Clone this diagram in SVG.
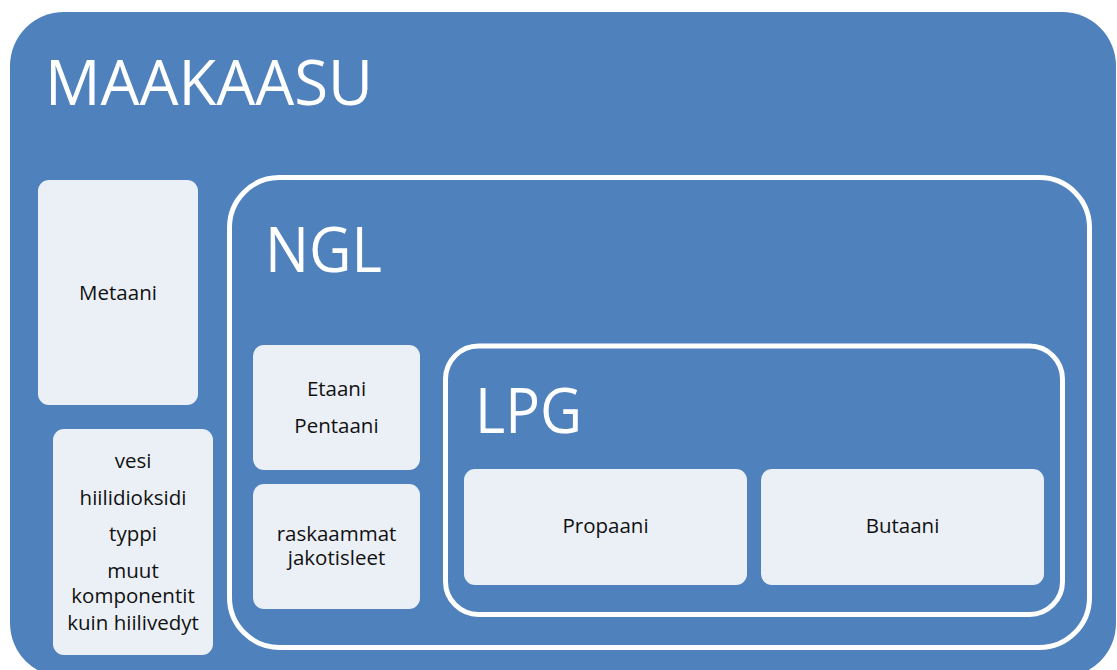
<svg xmlns="http://www.w3.org/2000/svg" width="1117" height="670" viewBox="0 0 1117 670">
<style>
.big{font-family:"Open Sans","Noto Sans",sans-serif;font-size:62px;fill:#fff}
.frame{fill:none;stroke:#fff;stroke-width:5}
.leaf{fill:#EBF0F7}
.lbl{font-family:"Open Sans","Noto Sans",sans-serif;font-size:20.5px;fill:#111;text-anchor:middle}
</style>
<rect x="0" y="0" width="1117" height="670" fill="#fff"/>
<g id="maakaasu">
<rect x="10" y="12" width="1106" height="665" rx="54" fill="#4F81BD"/>
<text class="big" x="45" y="105" textLength="328" lengthAdjust="spacingAndGlyphs">MAAKAASU</text>
</g>
<g id="metaani">
<rect class="leaf" x="38" y="180" width="160" height="225" rx="11"/>
<text class="lbl" x="118" y="300">Metaani</text>
</g>
<g id="muut">
<rect class="leaf" x="53" y="429" width="160" height="226" rx="11"/>
<text class="lbl" x="133" y="468">vesi</text>
<text class="lbl" x="133" y="505">hiilidioksidi</text>
<text class="lbl" x="133" y="541">typpi</text>
<text class="lbl" x="133" y="578">muut</text>
<text class="lbl" x="133" y="603">komponentit</text>
<text class="lbl" x="133" y="630">kuin hiilivedyt</text>
</g>
<g id="ngl">
<rect class="frame" x="229.5" y="177.5" width="860" height="470" rx="50"/>
<text class="big" x="265" y="272" textLength="117" lengthAdjust="spacingAndGlyphs">NGL</text>
</g>
<g id="etaani">
<rect class="leaf" x="253" y="345" width="167" height="125" rx="11"/>
<text class="lbl" x="336.5" y="396">Etaani</text>
<text class="lbl" x="336.5" y="433">Pentaani</text>
</g>
<g id="raskaammat">
<rect class="leaf" x="253" y="484" width="167" height="125" rx="11"/>
<text class="lbl" x="336.5" y="541">raskaammat</text>
<text class="lbl" x="336.5" y="565">jakotisleet</text>
</g>
<g id="lpg">
<rect class="frame" x="445.5" y="346" width="617" height="268.5" rx="33"/>
<text class="big" x="475" y="433" textLength="107" lengthAdjust="spacingAndGlyphs">LPG</text>
</g>
<g id="propaani">
<rect class="leaf" x="464" y="469" width="283" height="116" rx="11"/>
<text class="lbl" x="605.5" y="533">Propaani</text>
</g>
<g id="butaani">
<rect class="leaf" x="761" y="469" width="283" height="116" rx="11"/>
<text class="lbl" x="902.5" y="533">Butaani</text>
</g>
<g id="connectors"/>
</svg>
